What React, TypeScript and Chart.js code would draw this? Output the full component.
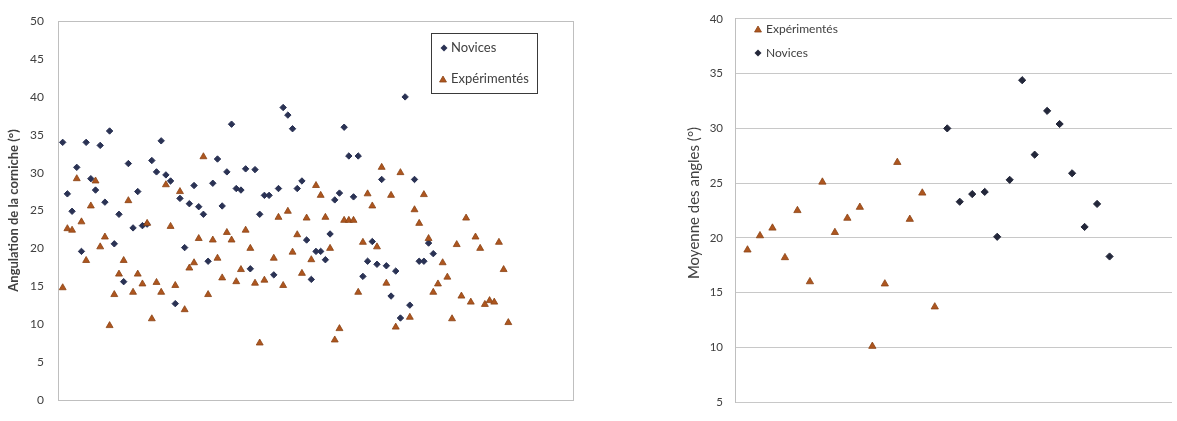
import React, { useEffect, useRef } from 'react';
import { Chart, registerables } from 'chart.js';

Chart.register(...registerables);

const FONT = 'Lato, "Open Sans", "Liberation Sans", sans-serif';

// ---- Left chart: individual angles (x = subject rank) ----
const noviceAngles: (number | null)[] = [
  34.0, 27.2, 24.9, 30.7, 19.6, 34.0, 29.2, 27.7, 33.6, 26.1,
  35.5, 20.6, 24.5, 15.6, 31.2, 22.7, 27.5, 23.0, 23.2, 31.6,
  30.1, 34.2, 29.7, 28.9, 12.7, 26.6, 20.1, 25.9, 28.3, 25.5,
  24.5, 18.3, 28.6, 31.8, 25.6, 30.1, 36.4, 27.9, 27.7, 30.5,
  17.3, 30.4, 24.5, 27.0, 27.0, 16.5, 27.9, 38.6, 37.6, 35.8,
  27.9, 28.9, 21.1, 15.9, 19.6, 19.6, 18.5, 21.9, 26.4, 27.3,
  36.0, 32.2, 26.8, 32.2, 16.3, 18.3, 20.9, 17.9, 29.1, 17.7,
  13.7, 17.0, 10.8, 40.0, 12.5, 29.1, 18.3, 18.3, 20.7, 19.3,
];

const expertAngles: (number | null)[] = [
  14.8, 22.6, 22.4, 29.2, 23.5, 18.4, 25.6, 28.9, 20.2, 21.5,
  9.8, 13.9, 16.6, 18.4, 26.3, 14.2, 16.6, 15.3, 23.3, 10.7,
  15.5, 14.2, 28.4, 22.9, 15.1, 27.5, 11.9, 17.4, 18.1, 21.3,
  32.1, 13.9, 21.1, 18.7, 16.1, 22.1, 21.1, 15.6, 17.2, 22.4,
  20.0, 15.4, 7.5, 15.8, null, 18.7, 24.1, 15.1, 24.9, 19.5,
  21.8, 16.7, 24.0, 18.5, 28.3, 27.0, 24.1, 20.0, 7.9, 9.4,
  23.7, 23.7, 23.7, 14.2, 20.8, 27.2, 25.6, 20.2, 30.7, 15.4,
  27.0, 9.6, 30.0, null, 10.9, 25.1, 23.3, 27.1, 21.3, 14.2,
  15.3, 18.1, 16.2, 10.7, 20.5, 13.7, 24.0, 12.9, 21.5, 20.0,
  12.6, 13.1, 12.9, 20.8, 17.2, 10.2,
];

// ---- Right chart: mean angles per subject ----
const expertMeans: number[] = [
  18.9, 20.2, 20.9, 18.2, 22.5, 16.0, 25.1, 20.5, 21.8, 22.8,
  10.1, 15.8, 26.9, 21.7, 24.1, 13.7,
];
const noviceMeans: number[] = [
  30.0, 23.3, 24.0, 24.2, 20.1, 25.3, 34.4, 27.6, 31.6, 30.4,
  25.9, 21.0, 23.1, 18.3,
];

const legendLabels = ['Novices', 'Expérimentés'];
const leftAxisTitle = 'Angulation de la corniche (°)';
const rightAxisTitle = 'Moyenne des angles (°)';

const NOVICE_COLOR = '#2A3254';
const NOVICE_COLOR_R = '#23273A';
const EXPERT_COLOR = '#AE561F';
const EXPERT_BORDER = '#8A4214';
const TEXT_COLOR = '#404040';

function toPoints(values: (number | null)[], start: number) {
  const pts: { x: number; y: number }[] = [];
  values.forEach((v, i) => {
    if (v !== null) pts.push({ x: start + i, y: v });
  });
  return pts;
}

function drawDiamond(ctx: CanvasRenderingContext2D, x: number, y: number, r: number, color: string) {
  ctx.beginPath();
  ctx.moveTo(x, y - r);
  ctx.lineTo(x + r, y);
  ctx.lineTo(x, y + r);
  ctx.lineTo(x - r, y);
  ctx.closePath();
  ctx.fillStyle = color;
  ctx.fill();
}

function drawTriangle(ctx: CanvasRenderingContext2D, x: number, y: number, r: number, color: string, border: string) {
  ctx.beginPath();
  let a = 0;
  ctx.moveTo(x + Math.sin(a) * r, y - Math.cos(a) * r);
  a += (2 * Math.PI) / 3;
  ctx.lineTo(x + Math.sin(a) * r, y - Math.cos(a) * r);
  a += (2 * Math.PI) / 3;
  ctx.lineTo(x + Math.sin(a) * r, y - Math.cos(a) * r);
  ctx.closePath();
  ctx.fillStyle = color;
  ctx.fill();
  ctx.strokeStyle = border;
  ctx.lineWidth = 0.8;
  ctx.stroke();
}

const framePlugin = {
  id: 'frame',
  beforeDatasetsDraw(chart: any) {
    const { ctx, chartArea } = chart;
    ctx.save();
    ctx.strokeStyle = '#BFBFBF';
    ctx.lineWidth = 1;
    ctx.strokeRect(
      Math.round(chartArea.left) + 0.5,
      Math.round(chartArea.top) + 0.5,
      Math.round(chartArea.right - chartArea.left) - 1,
      Math.round(chartArea.bottom - chartArea.top)
    );
    ctx.restore();
  },
};

const leftLegendPlugin = {
  id: 'leftLegend',
  afterDraw(chart: any) {
    const { ctx } = chart;
    ctx.save();
    ctx.fillStyle = '#FFFFFF';
    ctx.fillRect(431, 33, 106, 60);
    ctx.strokeStyle = '#3A3A3A';
    ctx.lineWidth = 1;
    ctx.strokeRect(431.5, 33.5, 106, 60);
    drawDiamond(ctx, 444, 48, 3.5, NOVICE_COLOR);
    drawTriangle(ctx, 443, 80, 4, EXPERT_COLOR, EXPERT_BORDER);
    ctx.fillStyle = TEXT_COLOR;
    ctx.font = `13px ${FONT}`;
    ctx.textBaseline = 'middle';
    ctx.textAlign = 'left';
    ctx.fillText(legendLabels[0], 451, 48);
    ctx.fillText(legendLabels[1], 451, 79);
    ctx.restore();
  },
};

const rightLegendPlugin = {
  id: 'rightLegend',
  afterDraw(chart: any) {
    const { ctx } = chart;
    ctx.save();
    drawTriangle(ctx, 158, 30, 4, EXPERT_COLOR, EXPERT_BORDER);
    drawDiamond(ctx, 158, 53, 3.5, NOVICE_COLOR_R);
    ctx.fillStyle = TEXT_COLOR;
    ctx.font = `12px ${FONT}`;
    ctx.textBaseline = 'middle';
    ctx.textAlign = 'left';
    ctx.fillText(legendLabels[1], 166, 29);
    ctx.fillText(legendLabels[0], 166, 53);
    // rotated axis title
    ctx.translate(94, 203);
    ctx.rotate(-Math.PI / 2);
    ctx.textAlign = 'center';
    ctx.font = `15px ${FONT}`;
    ctx.fillText(rightAxisTitle, 0, 0);
    ctx.restore();
  },
};

function LeftChart() {
  const ref = useRef<HTMLCanvasElement | null>(null);
  useEffect(() => {
    if (!ref.current) return;
    const chart = new Chart(ref.current, {
      type: 'scatter',
      data: {
        datasets: [
          {
            label: legendLabels[0],
            data: toPoints(noviceAngles, 1),
            pointStyle: 'rectRot',
            pointRadius: 3.2,
            backgroundColor: NOVICE_COLOR,
            borderColor: NOVICE_COLOR,
            borderWidth: 1,
            order: 1,
          },
          {
            label: legendLabels[1],
            data: toPoints(expertAngles, 1),
            pointStyle: 'triangle',
            pointRadius: 4,
            backgroundColor: EXPERT_COLOR,
            borderColor: EXPERT_BORDER,
            borderWidth: 0.8,
            order: 0,
          },
        ],
      },
      options: {
        animation: false,
        responsive: false,
        maintainAspectRatio: false,
        layout: { padding: { left: 6, top: 14, right: 26, bottom: 8 } },
        plugins: { legend: { display: false }, tooltip: { enabled: false } },
        scales: {
          x: { type: 'linear', min: 0, max: 110, display: false },
          y: {
            min: 0,
            max: 50,
            ticks: { stepSize: 5, padding: 14, color: TEXT_COLOR, font: { family: FONT, size: 12 } },
            grid: { display: false, drawTicks: false },
            border: { display: false },
            title: {
              display: true,
              text: leftAxisTitle,
              color: TEXT_COLOR,
              padding: 0,
              font: { family: FONT, size: 13, weight: 'bold' },
            },
            afterFit: (s: any) => {
              s.width = 52;
            },
          },
        },
      } as any,
      plugins: [framePlugin, leftLegendPlugin],
    });
    return () => chart.destroy();
  }, []);
  return (
    <canvas
      ref={ref}
      width={600}
      height={421}
      style={{ position: 'absolute', left: 0, top: 0, width: 600, height: 421 }}
    />
  );
}

function RightChart() {
  const ref = useRef<HTMLCanvasElement | null>(null);
  useEffect(() => {
    if (!ref.current) return;
    const chart = new Chart(ref.current, {
      type: 'scatter',
      data: {
        datasets: [
          {
            label: legendLabels[1],
            data: toPoints(expertMeans, 1),
            pointStyle: 'triangle',
            pointRadius: 4.2,
            backgroundColor: EXPERT_COLOR,
            borderColor: EXPERT_BORDER,
            borderWidth: 0.8,
          },
          {
            label: legendLabels[0],
            data: toPoints(noviceMeans, expertMeans.length + 1),
            pointStyle: 'rectRot',
            pointRadius: 3.6,
            backgroundColor: NOVICE_COLOR_R,
            borderColor: NOVICE_COLOR_R,
            borderWidth: 1,
          },
        ],
      },
      options: {
        animation: false,
        responsive: false,
        maintainAspectRatio: false,
        layout: { padding: { left: 86, top: 11.5, right: 0, bottom: 5 } },
        plugins: { legend: { display: false }, tooltip: { enabled: false } },
        scales: {
          x: { type: 'linear', min: 0, max: 35, display: false },
          y: {
            min: 5,
            max: 40,
            ticks: { stepSize: 5, padding: 12, color: TEXT_COLOR, font: { family: FONT, size: 11.5 } },
            grid: { color: '#C8C8C8', drawTicks: false, lineWidth: 1 },
            border: { display: true, color: '#BFBFBF' },
            title: { display: false },
            afterFit: (s: any) => {
              s.width = 49;
            },
          },
        },
      } as any,
      plugins: [rightLegendPlugin],
    });
    return () => chart.destroy();
  }, []);
  return (
    <canvas
      ref={ref}
      width={577}
      height={421}
      style={{ position: 'absolute', left: 600, top: 0, width: 577, height: 421 }}
    />
  );
}

export default function App() {
  return (
    <div
      style={{
        position: 'absolute',
        left: 0,
        top: 0,
        width: 1177,
        height: 421,
        background: '#FFFFFF',
        overflow: 'hidden',
      }}
    >
      <LeftChart />
      <RightChart />
    </div>
  );
}
